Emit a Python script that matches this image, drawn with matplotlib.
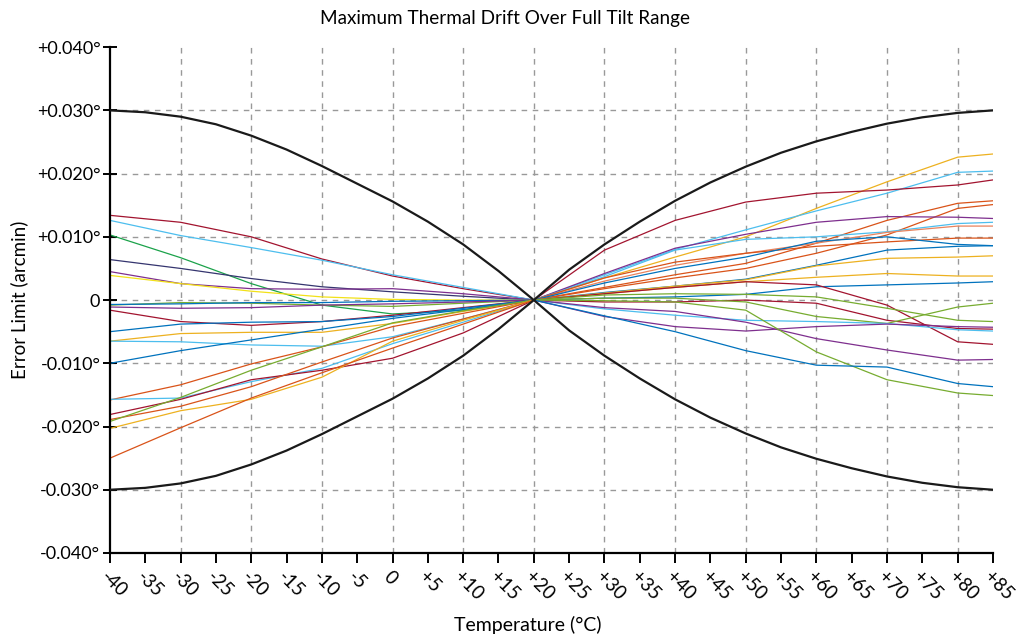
import numpy as np
import matplotlib
matplotlib.use('Agg')
import matplotlib.pyplot as plt

plt.rcParams['font.family'] = ['Lato', 'DejaVu Sans']

# Palette used by the sensor traces
CRIMSON = '#A2142F'
LBLUE = '#4DBEEE'
DGREEN = '#1BA24A'
NAVY = '#35356F'
PURPLE = '#7E2F8E'
YELLOW = '#F2E118'
BLUE = '#0072BD'
RORANGE = '#D95319'
SALMON = '#E8835E'
ORANGE = '#EDB120'
GREEN = '#77AC30'

# Error limit envelope (degrees), read at 5 degC steps
env_temps = [-40, -35, -30, -25, -20, -15, -10, -5, 0, 5, 10, 15, 20,
             25, 30, 35, 40, 45, 50, 55, 60, 65, 70, 75, 80, 85]
env_limit = [0.0300, 0.0297, 0.0290, 0.0278, 0.0260, 0.0238, 0.0212, 0.0184,
             0.0156, 0.0124, 0.0088, 0.0046, 0.0,
             0.0048, 0.0088, 0.0124, 0.0157, 0.0186, 0.0211, 0.0233, 0.0251,
             0.0266, 0.0279, 0.0289, 0.0296, 0.0300]

# Cold side drift (-40 .. +20 degC)
cold_temps = [-40, -30, -20, -10, 0, 10, 20]
cold_colors = [CRIMSON, LBLUE, DGREEN, NAVY, PURPLE, YELLOW, GREEN, BLUE,
               PURPLE, CRIMSON, BLUE, ORANGE, LBLUE, BLUE, RORANGE, LBLUE,
               CRIMSON, RORANGE, GREEN, ORANGE, RORANGE]
cold_drift = [
    [0.0134, 0.0123, 0.0100, 0.0065, 0.0038, 0.0018, 0.0],
    [0.0126, 0.0102, 0.0083, 0.0063, 0.0040, 0.0020, 0.0],
    [0.0103, 0.0067, 0.0026, -0.0008, -0.0022, -0.0016, 0.0],
    [0.0064, 0.0050, 0.0034, 0.0021, 0.0013, 0.0006, 0.0],
    [0.0045, 0.0026, 0.0018, 0.0017, 0.0018, 0.0010, 0.0],
    [0.0039, 0.0026, 0.0014, 0.0005, 0.0001, 0.0000, 0.0],
    [-0.0008, -0.0004, -0.0005, -0.0008, -0.0010, -0.0005, 0.0],
    [-0.0007, -0.0006, -0.0004, -0.0004, -0.0002, -0.0001, 0.0],
    [-0.0011, -0.0013, -0.0012, -0.0008, -0.0006, -0.0003, 0.0],
    [-0.0016, -0.0034, -0.0040, -0.0034, -0.0024, -0.0012, 0.0],
    [-0.0050, -0.0038, -0.0035, -0.0034, -0.0026, -0.0013, 0.0],
    [-0.0065, -0.0053, -0.0051, -0.0051, -0.0037, -0.0018, 0.0],
    [-0.0065, -0.0066, -0.0071, -0.0073, -0.0058, -0.0030, 0.0],
    [-0.0100, -0.0080, -0.0063, -0.0046, -0.0029, -0.0015, 0.0],
    [-0.0158, -0.0134, -0.0101, -0.0074, -0.0042, -0.0021, 0.0],
    [-0.0157, -0.0155, -0.0129, -0.0108, -0.0069, -0.0035, 0.0],
    [-0.0181, -0.0157, -0.0126, -0.0111, -0.0092, -0.0052, 0.0],
    [-0.0189, -0.0168, -0.0137, -0.0098, -0.0060, -0.0030, 0.0],
    [-0.0192, -0.0154, -0.0111, -0.0074, -0.0036, -0.0017, 0.0],
    [-0.0203, -0.0175, -0.0157, -0.0122, -0.0065, -0.0032, 0.0],
    [-0.0250, -0.0202, -0.0155, -0.0115, -0.0076, -0.0038, 0.0],
]

# Hot side drift (+20 .. +85 degC)
hot_temps = [20, 30, 40, 50, 60, 70, 80, 85]
hot_colors = [ORANGE, LBLUE, CRIMSON, RORANGE, RORANGE, PURPLE, LBLUE, SALMON,
              RORANGE, BLUE, BLUE, ORANGE, ORANGE, BLUE, CRIMSON, GREEN,
              CRIMSON, GREEN, LBLUE, PURPLE, PURPLE, GREEN, BLUE]
hot_drift = [
    [0.0, 0.0035, 0.0068, 0.0100, 0.0145, 0.0187, 0.0226, 0.0231],
    [0.0, 0.0040, 0.0080, 0.0111, 0.0141, 0.0169, 0.0202, 0.0204],
    [0.0, 0.0079, 0.0126, 0.0155, 0.0169, 0.0174, 0.0182, 0.0190],
    [0.0, 0.0020, 0.0040, 0.0058, 0.0090, 0.0126, 0.0153, 0.0157],
    [0.0, 0.0018, 0.0035, 0.0050, 0.0074, 0.0103, 0.0145, 0.0151],
    [0.0, 0.0042, 0.0082, 0.0104, 0.0123, 0.0132, 0.0131, 0.0129],
    [0.0, 0.0037, 0.0079, 0.0096, 0.0100, 0.0108, 0.0121, 0.0123],
    [0.0, 0.0030, 0.0055, 0.0074, 0.0090, 0.0107, 0.0117, 0.0117],
    [0.0, 0.0035, 0.0060, 0.0074, 0.0085, 0.0092, 0.0098, 0.0098],
    [0.0, 0.0027, 0.0050, 0.0068, 0.0093, 0.0100, 0.0088, 0.0086],
    [0.0, 0.0012, 0.0022, 0.0033, 0.0055, 0.0079, 0.0085, 0.0086],
    [0.0, 0.0011, 0.0022, 0.0032, 0.0054, 0.0066, 0.0068, 0.0070],
    [0.0, 0.0010, 0.0020, 0.0029, 0.0036, 0.0042, 0.0038, 0.0038],
    [0.0, 0.0003, 0.0005, 0.0009, 0.0021, 0.0024, 0.0027, 0.0029],
    [0.0, 0.0010, 0.0020, 0.0029, 0.0024, -0.0008, -0.0066, -0.0070],
    [0.0, 0.0008, 0.0010, 0.0009, 0.0005, -0.0013, -0.0032, -0.0034],
    [0.0, -0.0003, -0.0003, 0.0000, -0.0005, -0.0032, -0.0045, -0.0046],
    [0.0, 0.0003, 0.0003, -0.0003, -0.0026, -0.0037, -0.0011, -0.0005],
    [0.0, -0.0014, -0.0024, -0.0032, -0.0034, -0.0037, -0.0047, -0.0049],
    [0.0, -0.0026, -0.0042, -0.0049, -0.0042, -0.0038, -0.0042, -0.0043],
    [0.0, -0.0012, -0.0018, -0.0035, -0.0061, -0.0079, -0.0095, -0.0094],
    [0.0, -0.0001, -0.0003, -0.0016, -0.0082, -0.0126, -0.0147, -0.0151],
    [0.0, -0.0025, -0.0050, -0.0080, -0.0103, -0.0106, -0.0132, -0.0137],
]

x_ticks = list(range(-40, 90, 5))
x_labels = [('+%d' % t) if t > 0 else '%d' % t for t in x_ticks]
y_ticks = [-0.04, -0.03, -0.02, -0.01, 0.0, 0.01, 0.02, 0.03, 0.04]
y_labels = ['-0.040°', '-0.030°', '-0.020°', '-0.010°', '0',
            '+0.010°', '+0.020°', '+0.030°', '+0.040°']


fig = plt.figure(figsize=(10.24, 6.37), dpi=100)
ax = fig.add_axes([0.1074, 0.1319, 0.8623, 0.7941])

for color, vals in zip(cold_colors, cold_drift):
    ax.plot(cold_temps, vals, color=color, lw=0.9)
for color, vals in zip(hot_colors, hot_drift):
    ax.plot(hot_temps, vals, color=color, lw=0.9)

env = np.array(env_limit)
ax.plot(env_temps, env, color='#1a1a1a', lw=1.6, zorder=5)
ax.plot(env_temps, -env, color='#1a1a1a', lw=1.6, zorder=5)

ax.set_xlim(-40, 85)
ax.set_ylim(-0.04, 0.04)

# dashed grid: every 10 degC and every 0.01
for gx in range(-30, 90, 10):
    ax.axvline(gx, color='#999999', lw=1, ls=(0, (4, 4)), zorder=0)
for gy in y_ticks[1:-1]:
    ax.axhline(gy, color='#999999', lw=1, ls=(0, (4, 4)), zorder=0)

ax.set_xticks(x_ticks)
ax.set_xticklabels(x_labels, rotation=-45, ha='left', va='top',
                   rotation_mode='anchor')
ax.set_yticks(y_ticks)
ax.set_yticklabels(y_labels)
ax.tick_params(axis='x', direction='out', length=7, width=1.4, labelsize=13.5,
               pad=4)
ax.tick_params(axis='y', direction='inout', length=10, width=1.4,
               labelsize=13, pad=2)

for side in ['top', 'right']:
    ax.spines[side].set_visible(False)
for side in ['left', 'bottom']:
    ax.spines[side].set_linewidth(1.6)

fig.text(0.493, 0.971, 'Maximum Thermal Drift Over Full Tilt Range',
         fontsize=13.6, ha='center', va='center')
ax.set_xlabel('Temperature (°C)', fontsize=14, va='center')
ax.xaxis.set_label_coords(0.473, -0.142)
ax.set_ylabel('Error Limit (arcmin)', fontsize=13.5, labelpad=6)

fig.savefig('out.png', dpi=100)
